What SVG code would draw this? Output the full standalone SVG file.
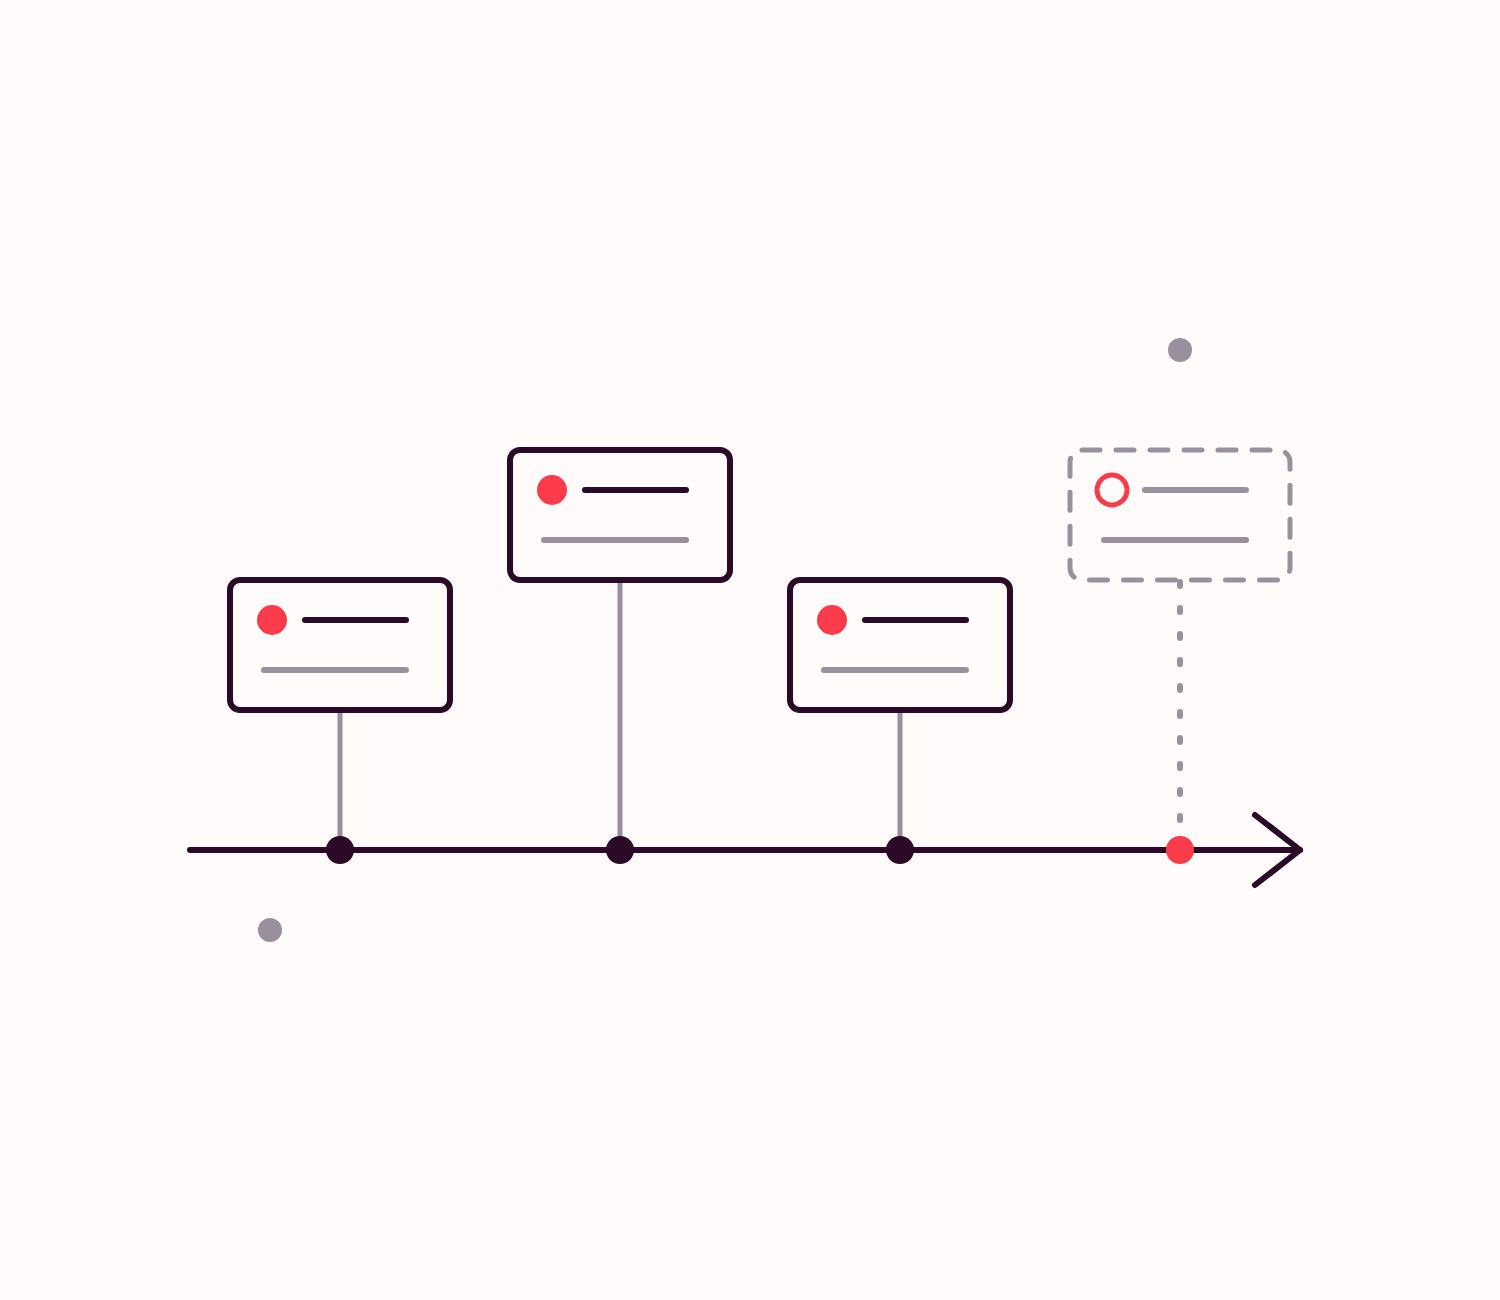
<svg xmlns="http://www.w3.org/2000/svg" width="1500" height="1300" viewBox="0 0 1500 1300">
<defs>
<style>
.card{fill:#fffbfa;stroke:#2a0a26;stroke-width:6}
.ghost{fill:none;stroke:#9a8f9d;stroke-width:5;stroke-dasharray:18 16;stroke-linecap:round}
.dark{stroke:#2a0a26;stroke-width:6;stroke-linecap:round}
.grey{stroke:#9a8f9d;stroke-width:6;stroke-linecap:round}
.stem{stroke:#9a8f9d;stroke-width:5}
.red{fill:#fc3c4a}
.knot{fill:#2a0a26}
.deco{fill:#9a8f9d}
</style>
</defs>
<rect width="1500" height="1300" fill="#fffbfa"/>
<g id="decor">
<circle class="deco" cx="1180" cy="350" r="12"/>
<circle class="deco" cx="270" cy="930" r="12"/>
</g>
<g id="connectors">
<line class="stem" x1="340" y1="712" x2="340" y2="850"/>
<line class="stem" x1="620" y1="582" x2="620" y2="850"/>
<line class="stem" x1="900" y1="712" x2="900" y2="850"/>
<line x1="1180" y1="582" x2="1180" y2="830" stroke="#9a8f9d" stroke-width="6" stroke-linecap="round" stroke-dasharray="4 22"/>
<line x1="190" y1="850" x2="1300" y2="850" stroke="#2a0a26" stroke-width="6" stroke-linecap="round"/>
<polyline points="1255,815 1300,850 1255,885" fill="none" stroke="#2a0a26" stroke-width="6" stroke-linecap="round" stroke-linejoin="round"/>
</g>
<g id="node1">
<rect class="card" x="230" y="580" width="220" height="130" rx="10"/>
<circle class="red" cx="272" cy="620" r="15"/>
<line class="dark" x1="305" y1="620" x2="406" y2="620"/>
<line class="grey" x1="264" y1="670" x2="406" y2="670"/>
</g>
<g id="node2">
<rect class="card" x="510" y="450" width="220" height="130" rx="10"/>
<circle class="red" cx="552" cy="490" r="15"/>
<line class="dark" x1="585" y1="490" x2="686" y2="490"/>
<line class="grey" x1="544" y1="540" x2="686" y2="540"/>
</g>
<g id="node3">
<rect class="card" x="790" y="580" width="220" height="130" rx="10"/>
<circle class="red" cx="832" cy="620" r="15"/>
<line class="dark" x1="865" y1="620" x2="966" y2="620"/>
<line class="grey" x1="824" y1="670" x2="966" y2="670"/>
</g>
<g id="node4">
<rect class="ghost" x="1070" y="450" width="220" height="130" rx="12"/>
<circle cx="1112" cy="490" r="15" fill="none" stroke="#fc3c4a" stroke-width="5"/>
<line class="grey" x1="1145" y1="490" x2="1246" y2="490"/>
<line class="grey" x1="1104" y1="540" x2="1246" y2="540"/>
</g>
<g id="points">
<circle class="knot" cx="340" cy="850" r="14"/>
<circle class="knot" cx="620" cy="850" r="14"/>
<circle class="knot" cx="900" cy="850" r="14"/>
<circle class="red" cx="1180" cy="850" r="14"/>
</g>
</svg>
